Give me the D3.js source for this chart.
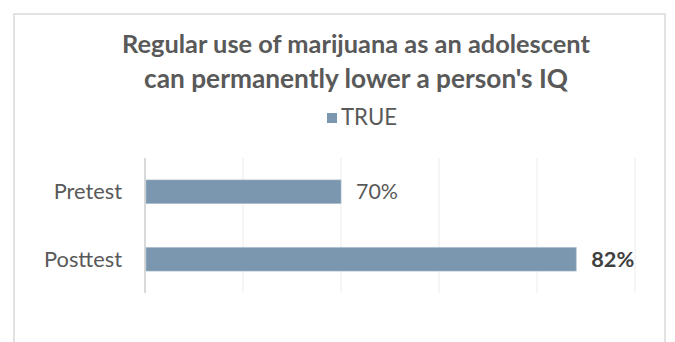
<!DOCTYPE html>
<html><head><meta charset="utf-8">
<script src="https://cdn.jsdelivr.net/npm/d3@7"></script>
<style>body{margin:0;background:#fff}svg{display:block}text{font-family:Lato,sans-serif}</style>
</head><body>
<script>
const categories = ["Pretest", "Posttest"];
const values = [70, 82];
const valueLabels = ["70%", "82%"];
const boldLabel = [false, true];
const seriesName = "TRUE";
const titleLines = ["Regular use of marijuana as an adolescent", "can permanently lower a person's IQ"];
const xTicks = [60, 65, 70, 75, 80, 85];

const W = 675, H = 342;
const svg = d3.select("body").append("svg").attr("width", W).attr("height", H);
svg.append("rect").attr("x", 14).attr("y", 14).attr("width", 651).attr("height", 340)
  .attr("fill", "#fff").attr("stroke", "#d9d9d9").attr("stroke-width", 1.5);

function fitSize(sel, target) {
  const n = sel.node(); const fs = parseFloat(sel.attr("font-size"));
  return fs * target / n.getComputedTextLength();
}

const t1 = svg.append("text").attr("x", 356).attr("y", 53).attr("text-anchor", "middle")
  .attr("font-weight", "bold").attr("font-size", 20).attr("fill", "#595959").text(titleLines[0]);
t1.attr("font-size", fitSize(t1, 468).toFixed(2));
const t2 = svg.append("text").attr("x", 356).attr("y", 88).attr("text-anchor", "middle")
  .attr("font-weight", "bold").attr("font-size", 20).attr("fill", "#595959").text(titleLines[1]);
t2.attr("font-size", fitSize(t2, 424).toFixed(2));

svg.append("rect").attr("x", 327).attr("y", 113).attr("width", 10).attr("height", 10).attr("fill", "#7B97AF");
const lg = svg.append("text").attr("x", 341).attr("y", 124.5).attr("font-size", 16).attr("fill", "#595959").text(seriesName);
lg.attr("font-size", fitSize(lg, 56).toFixed(2));

const x = d3.scaleLinear().domain([60, 85]).range([145, 635]);
const y = d3.scaleBand().domain(categories).range([158, 293]).paddingInner(0.65).paddingOuter(0.325);

svg.append("g").selectAll("line").data(xTicks).join("line")
  .attr("x1", d => x(d)).attr("x2", d => x(d)).attr("y1", 158).attr("y2", 293)
  .attr("stroke", d => d === 60 ? "#d9d9d9" : "#ececec").attr("stroke-width", d => d === 60 ? 2 : 1);

svg.append("g").selectAll("rect").data(values).join("rect")
  .attr("x", x(60)+1).attr("y", (d, i) => y(categories[i]))
  .attr("width", d => x(d) - x(60) - 1).attr("height", y.bandwidth())
  .attr("fill", "#7B97AF").attr("stroke", "#a9bccd").attr("stroke-width", 0.6);

const yAxis = d3.axisLeft(y).tickSize(0).tickPadding(23);
const ga = svg.append("g").attr("transform", "translate(145,0)").call(yAxis);
ga.select(".domain").remove();
ga.selectAll("text").attr("font-size", 19).attr("fill", "#595959").attr("font-family", "Lato").attr("dy", "0.34em");
const postLbl = ga.selectAll("text").filter(d => d === "Posttest");
const catSize = fitSize(postLbl, 78);
ga.selectAll("text").attr("font-size", catSize.toFixed(2));

const vl = svg.append("g").selectAll("text").data(values).join("text")
  .attr("x", d => x(d) + 15).attr("y", (d, i) => y(categories[i]) + y.bandwidth() / 2)
  .attr("dy", "0.36em").attr("font-size", 18)
  .attr("font-weight", (d, i) => boldLabel[i] ? "bold" : "normal")
  .attr("fill", (d, i) => boldLabel[i] ? "#404040" : "#595959")
  .text((d, i) => valueLabels[i]);
vl.each(function(d, i) { const s = d3.select(this); s.attr("font-size", fitSize(s, i === 0 ? 42 : 43).toFixed(2)); });
</script>
</body></html>
